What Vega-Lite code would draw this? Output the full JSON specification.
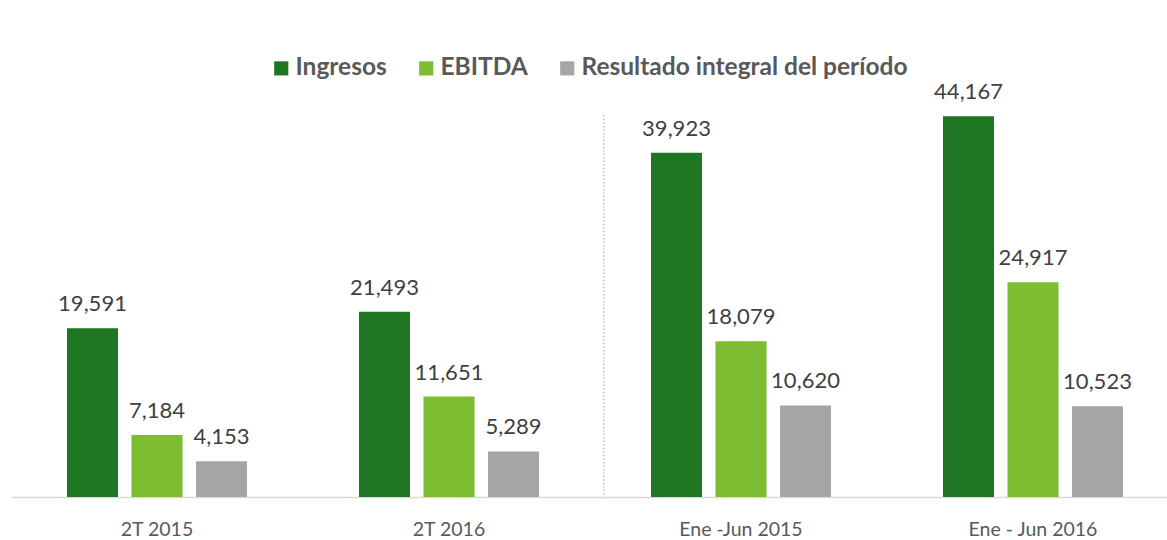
{
  "$schema": "https://vega.github.io/schema/vega-lite/v6.json",
  "width": 1156,
  "height": 431,
  "autosize": {"type": "none"},
  "padding": {"left": 11, "top": 66, "right": 0, "bottom": 43},
  "background": "white",
  "config": {
    "view": {"stroke": null},
    "font": "Lato"
  },
  "data": {
    "values": [
      {"periodo": "2T 2015", "serie": "Ingresos", "valor": 19591},
      {"periodo": "2T 2015", "serie": "EBITDA", "valor": 7184},
      {"periodo": "2T 2015", "serie": "Resultado integral del período", "valor": 4153},
      {"periodo": "2T 2016", "serie": "Ingresos", "valor": 21493},
      {"periodo": "2T 2016", "serie": "EBITDA", "valor": 11651},
      {"periodo": "2T 2016", "serie": "Resultado integral del período", "valor": 5289},
      {"periodo": "Ene -Jun 2015", "serie": "Ingresos", "valor": 39923},
      {"periodo": "Ene -Jun 2015", "serie": "EBITDA", "valor": 18079},
      {"periodo": "Ene -Jun 2015", "serie": "Resultado integral del período", "valor": 10620},
      {"periodo": "Ene - Jun 2016", "serie": "Ingresos", "valor": 44167},
      {"periodo": "Ene - Jun 2016", "serie": "EBITDA", "valor": 24917},
      {"periodo": "Ene - Jun 2016", "serie": "Resultado integral del período", "valor": 10523}
    ]
  },
  "encoding": {
    "x": {
      "field": "periodo",
      "type": "nominal",
      "sort": null,
      "scale": {"range": [0, 1168], "paddingInner": 0, "paddingOuter": 0},
      "axis": {
        "title": null,
        "labelAngle": 0,
        "labelFontSize": 19.5,
        "labelColor": "#595959",
        "labelPadding": 23,
        "labelBaseline": "top",
        "ticks": false,
        "domainColor": "#d9d9d9",
        "domainWidth": 1.5,
        "grid": false
      }
    },
    "xOffset": {
      "field": "serie",
      "type": "nominal",
      "sort": ["Ingresos", "EBITDA", "Resultado integral del período"],
      "scale": {"paddingInner": 0.209, "paddingOuter": 0.868}
    },
    "y": {
      "field": "valor",
      "type": "quantitative",
      "scale": {"domain": [0, 50000]},
      "axis": null
    }
  },
  "layer": [
    {
      "mark": {"type": "bar"},
      "encoding": {
        "color": {
          "field": "serie",
          "type": "nominal",
          "sort": ["Ingresos", "EBITDA", "Resultado integral del período"],
          "scale": {
            "domain": ["Ingresos", "EBITDA", "Resultado integral del período"],
            "range": ["#1e7623", "#7cbd32", "#a5a5a5"]
          },
          "legend": {
            "title": null,
            "orient": "none",
            "direction": "horizontal",
            "legendX": 258,
            "legendY": -10,
            "symbolType": "square",
            "symbolSize": 200,
            "symbolStrokeWidth": 0,
            "symbolOpacity": 1,
            "labelFontSize": 24.5,
            "labelFontWeight": "bold",
            "labelColor": "#595959",
            "labelOffset": 2,
            "columnPadding": 27,
            "labelLimit": 600
          }
        }
      }
    },
    {
      "mark": {
        "type": "text",
        "baseline": "alphabetic",
        "dy": -17,
        "fontSize": 22,
        "color": "#404040"
      },
      "encoding": {
        "text": {"field": "valor", "type": "quantitative", "format": ",d"}
      }
    },
    {
      "data": {"values": [{"periodo": "Ene -Jun 2015", "top": 44300}]},
      "mark": {
        "type": "rule",
        "color": "#bfbfbf",
        "strokeWidth": 1.5,
        "strokeDash": [1.5, 2]
      },
      "encoding": {
        "x": {"field": "periodo", "type": "nominal", "bandPosition": 0.03},
        "xOffset": null,
        "y": {"field": "top", "type": "quantitative"},
        "y2": {"datum": 0}
      }
    }
  ]
}
